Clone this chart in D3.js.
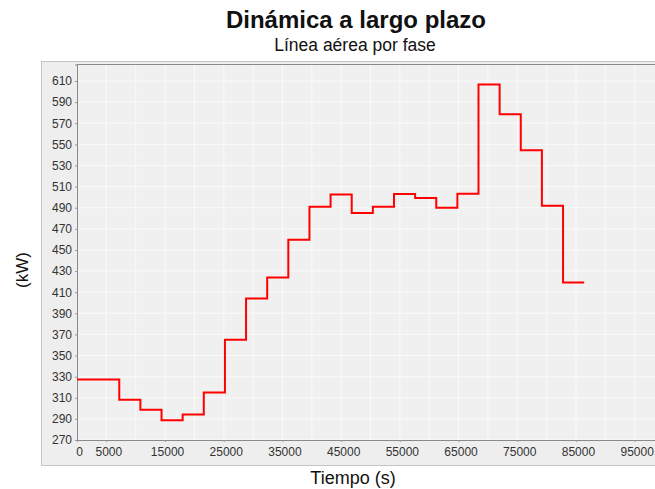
<!DOCTYPE html>
<html>
<head>
<meta charset="utf-8">
<script src="https://cdn.jsdelivr.net/npm/d3@7"></script>
<style>
  html, body { margin: 0; padding: 0; background: #ffffff; }
  svg { display: block; }
  text { font-family: "Liberation Sans", Arial, sans-serif; }
</style>
</head>
<body>
<svg id="chart" width="655" height="489"></svg>
<script>
// ---- data ----
const title = "Dinámica a largo plazo";
const subtitle = "Línea aérea por fase";
const xLabel = "Tiempo (s)";
const yLabel = "(kW)";
const stepTimes = [0, 7200, 10800, 14400, 18000, 21600, 25200, 28800, 32400, 36000,
                   39600, 43200, 46800, 50400, 54000, 57600, 61200, 64800, 68400,
                   72000, 75600, 79200, 82800, 86400];
const powerKW = [327.3, 308.1, 298.6, 288.8, 294.2, 315.0, 365.0, 404.1, 424.0, 459.7,
                 491.0, 502.6, 484.9, 491.0, 502.9, 499.1, 490.0, 503.3, 606.6,
                 578.4, 544.3, 491.9, 419.2, 419.2];
const xTickLabels = [0, 5000, 15000, 25000, 35000, 45000, 55000, 65000, 75000, 85000, 95000];
const xGridTicks = [5000, 10000, 15000, 20000, 25000, 30000, 35000, 40000, 45000, 50000,
                    55000, 60000, 65000, 70000, 75000, 80000, 85000, 90000, 95000];
const yTicks = [270, 290, 310, 330, 350, 370, 390, 410, 430, 450, 470, 490, 510, 530, 550, 570, 590, 610];

const points = stepTimes.map((t, i) => ({ t: t, v: powerKW[i] }));

// ---- layout ----
const svg = d3.select("#chart");
const plot = { left: 77, top: 64.5, right: 664, bottom: 440 };

const x = d3.scaleLinear().domain([0, 100000]).range([plot.left, plot.right]);
const y = d3.scaleLinear().domain([270, 625.6]).range([plot.bottom, plot.top]);

// outer panel
svg.append("rect")
  .attr("x", 41.5).attr("y", 61.5)
  .attr("width", 640).attr("height", 404)
  .attr("fill", "#eeeeee").attr("stroke", "#c4c4c4");

// plot background
svg.append("rect")
  .attr("x", plot.left).attr("y", plot.top)
  .attr("width", plot.right - plot.left).attr("height", plot.bottom - plot.top)
  .attr("fill", "#f0f0f0");

// grid lines
const grid = svg.append("g");
grid.selectAll("line.vg").data(xGridTicks).enter().append("line")
  .attr("x1", d => x(d)).attr("x2", d => x(d))
  .attr("y1", plot.top).attr("y2", plot.bottom)
  .attr("stroke", "#fafafa").attr("stroke-width", 1);
grid.selectAll("line.hg").data(yTicks).enter().append("line")
  .attr("x1", plot.left).attr("x2", plot.right)
  .attr("y1", d => y(d)).attr("y2", d => y(d))
  .attr("stroke", "#fafafa").attr("stroke-width", 1);

// axes
const yAxis = d3.axisLeft(y).tickValues(yTicks).tickSize(2).tickPadding(3).tickFormat(d3.format("d"));
const gy = svg.append("g").attr("transform", `translate(${plot.left},0)`).call(yAxis);
gy.select(".domain").attr("stroke", "#8a8a8a");
gy.selectAll(".tick line").attr("stroke", "#9a9a9a");
gy.selectAll(".tick text").attr("font-size", 12).attr("fill", "#333")
  .attr("font-family", "'Liberation Sans', Arial, sans-serif");

const xAxis = d3.axisBottom(x).tickValues(xTickLabels).tickSize(2).tickPadding(5).tickFormat(d3.format("d"));
const gx = svg.append("g").attr("transform", `translate(0,${plot.bottom})`).call(xAxis);
gx.select(".domain").attr("stroke", "#8a8a8a");
gx.selectAll(".tick line").attr("stroke", "#9a9a9a");
gx.selectAll(".tick text").attr("font-size", 12).attr("fill", "#333")
  .attr("dx", 2)
  .attr("font-family", "'Liberation Sans', Arial, sans-serif");

// top border of plot
svg.append("line")
  .attr("x1", plot.left).attr("x2", plot.right)
  .attr("y1", plot.top).attr("y2", plot.top)
  .attr("stroke", "#8a8a8a");

// step line
const line = d3.line().x(d => x(d.t)).y(d => y(d.v)).curve(d3.curveStepAfter);
svg.append("path").datum(points)
  .attr("d", line)
  .attr("fill", "none")
  .attr("stroke", "#ff0000")
  .attr("stroke-width", 2);

// titles
svg.append("text").attr("x", 356).attr("y", 28)
  .attr("text-anchor", "middle").attr("font-size", 24).attr("font-weight", "bold")
  .attr("fill", "#111").text(title);
svg.append("text").attr("x", 355).attr("y", 51)
  .attr("text-anchor", "middle").attr("font-size", 17.5)
  .attr("fill", "#111").text(subtitle);
svg.append("text").attr("x", 353).attr("y", 484)
  .attr("text-anchor", "middle").attr("font-size", 18)
  .attr("fill", "#111").text(xLabel);
svg.append("text")
  .attr("transform", "translate(28,270) rotate(-90)")
  .attr("text-anchor", "middle").attr("font-size", 17)
  .attr("fill", "#111").text(yLabel);
</script>
</body>
</html>
